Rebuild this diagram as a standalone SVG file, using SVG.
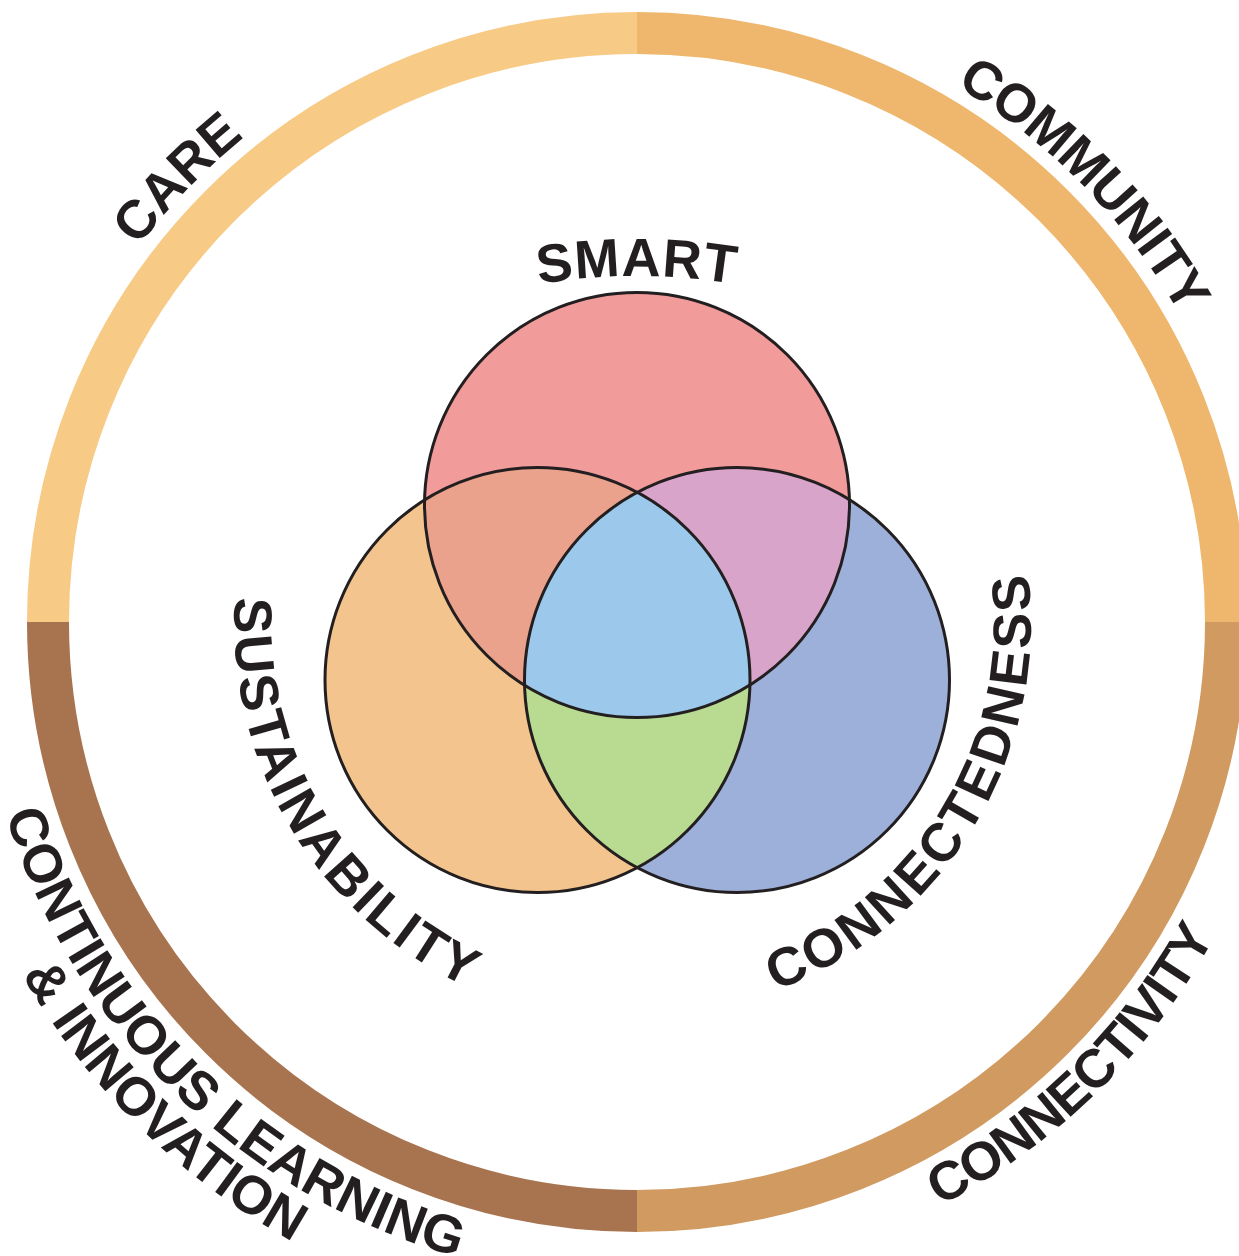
<svg xmlns="http://www.w3.org/2000/svg" xmlns:xlink="http://www.w3.org/1999/xlink" width="1239" height="1256" viewBox="0 0 1239 1256">
<style>
.ring{fill:none;stroke-width:42}
.lbl{font-family:"Liberation Sans",Arial,sans-serif;font-weight:bold;font-size:54px;fill:#231F20}
.outline{fill:none;stroke:#231F20;stroke-width:3}
</style>
<defs>
<path id="pCare" d="M132.2,988.8 A624,624 0 0,1 985.9,104.7"/>
<path id="pCommunity" d="M284.5,107.1 A624,624 0 0,1 1144.3,985.3"/>
<path id="pConnectivity" d="M254,1157 A658,658 0 0,0 1179.9,250.3"/>
<path id="pCont1" d="M92.4,249.1 A660,660 0 0,0 1021.2,1158.6"/>
<path id="pCont2" d="M53.4,219.4 A709,709 0 0,0 1047.7,1199.9"/>
<path id="pSmart" d="M337,356.4 A600,600 0 0,1 937,356.4"/>
<path id="pSust" d="M372.6,317.9 A403,403 0 0,0 781.4,998.2"/>
<path id="pConn" d="M495.8,989.8 A394,394 0 0,0 895.5,324.6"/>
<clipPath id="cT"><circle cx="637" cy="505" r="212.5"/></clipPath>
<clipPath id="cL"><circle cx="537.5" cy="680" r="212.5"/></clipPath>
<clipPath id="cR"><circle cx="737" cy="680" r="212.5"/></clipPath>
</defs>
<rect width="1239" height="1256" fill="#FFFFFF"/>
<g id="ring">
<path class="ring" stroke="#F7CA86" d="M48,622 A589,589 0 0,1 637,33"/>
<path class="ring" stroke="#EEB76D" d="M637,33 A589,589 0 0,1 1226,622"/>
<path class="ring" stroke="#D09A60" d="M1226,622 A589,589 0 0,1 637,1211"/>
<path class="ring" stroke="#A8744F" d="M637,1211 A589,589 0 0,1 48,622"/>
</g>
<g id="venn">
<circle cx="637" cy="505" r="212.5" fill="#F29B9B"/>
<circle cx="537.5" cy="680" r="212.5" fill="#F3C48D"/>
<circle cx="737" cy="680" r="212.5" fill="#9DB0DA"/>
<circle cx="537.5" cy="680" r="212.5" fill="#EAA28C" clip-path="url(#cT)"/>
<circle cx="737" cy="680" r="212.5" fill="#D9A4C9" clip-path="url(#cT)"/>
<circle cx="737" cy="680" r="212.5" fill="#B8DA91" clip-path="url(#cL)"/>
<g clip-path="url(#cR)"><circle cx="637" cy="505" r="212.5" fill="#9CC9EB" clip-path="url(#cL)"/></g>
<circle class="outline" cx="637" cy="505" r="212.5"/>
<circle class="outline" cx="537.5" cy="680" r="212.5"/>
<circle class="outline" cx="737" cy="680" r="212.5"/>
</g>
<g id="labels">
<text class="lbl" text-anchor="middle"><textPath href="#pSmart" xlink:href="#pSmart" startOffset="50%" letter-spacing="1">SMART</textPath></text>
<text class="lbl" text-anchor="middle"><textPath href="#pSust" xlink:href="#pSust" startOffset="50%" letter-spacing="3">SUSTAINABILITY</textPath></text>
<text class="lbl" text-anchor="middle"><textPath href="#pConn" xlink:href="#pConn" startOffset="50%" letter-spacing="3">CONNECTEDNESS</textPath></text>
<text class="lbl" text-anchor="middle"><textPath href="#pCare" xlink:href="#pCare" startOffset="50%">CARE</textPath></text>
<text class="lbl" text-anchor="middle"><textPath href="#pCommunity" xlink:href="#pCommunity" startOffset="50%" letter-spacing="-1">COMMUNITY</textPath></text>
<text class="lbl" text-anchor="middle"><textPath href="#pConnectivity" xlink:href="#pConnectivity" startOffset="50%" letter-spacing="-1">CONNECTIVITY</textPath></text>
<text class="lbl" text-anchor="middle"><textPath href="#pCont1" xlink:href="#pCont1" startOffset="50%">CONTINUOUS LEARNING</textPath></text>
<text class="lbl" text-anchor="middle"><textPath href="#pCont2" xlink:href="#pCont2" startOffset="50%">&amp; INNOVATION</textPath></text>
</g>
</svg>
